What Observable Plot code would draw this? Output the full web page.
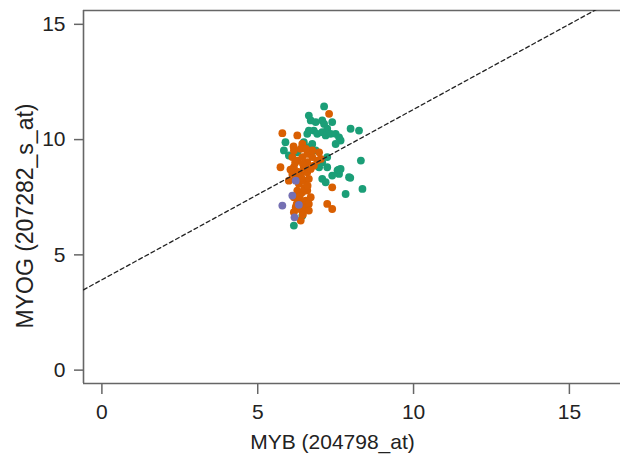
<!DOCTYPE html>
<html><head><meta charset="utf-8">
<script src="https://cdn.jsdelivr.net/npm/d3@7"></script>
<script src="https://cdn.jsdelivr.net/npm/@observablehq/plot@0.6"></script>
<style>body{margin:0;background:#fff}</style>
</head><body><div id="chart"></div>
<script>
const xTitle = "MYB (204798_at)";
const yTitle = "MYOG (207282_s_at)";
const xTicks = [0, 5, 10, 15];
const yTicks = [0, 5, 10, 15];
const xDomain = [-0.59, 16.64];
const yDomain = [-0.58, 15.6];
const regIntercept = 3.92;
const regSlope = 0.739;

const greenX = [7.13,6.64,6.70,6.86,7.07,7.13,7.39,7.23,6.80,6.64,6.59,6.91,7.07,7.18,7.34,7.50,7.61,7.66,7.50,7.98,8.25,6.48,6.75,6.86,6.64,5.89,5.84,6.00,6.27,7.23,7.07,6.97,7.23,7.56,7.66,7.61,7.39,7.07,7.18,7.93,8.31,8.36,7.82,6.43,6.16,7.60,7.97];
const greenY = [11.44,11.04,10.83,10.76,10.83,10.68,10.76,10.47,10.39,10.39,10.25,10.25,10.32,10.18,10.25,10.25,10.10,9.96,9.81,10.47,10.39,9.89,9.81,9.53,9.67,9.89,9.53,9.31,9.45,9.24,9.02,8.80,8.80,8.66,8.73,8.51,8.44,8.30,8.15,8.37,9.09,7.86,7.64,6.70,6.27,8.70,8.34];

const orangeX = [7.29,5.79,5.73,6.27,6.43,6.38,6.16,6.11,6.27,6.43,6.59,6.75,6.91,7.02,6.59,6.48,6.16,6.11,6.22,6.38,6.59,6.70,6.80,6.00,6.32,6.48,6.64,6.27,6.43,6.59,6.16,6.32,6.54,6.70,6.22,6.48,6.64,6.16,6.43,6.64,6.38,7.39,7.23,7.39,6.97,6.75,6.30,6.45,6.20,6.55,6.35,6.50,6.25,6.40,6.60,6.05,6.15,6.45,6.30];
const orangeY = [11.12,10.28,8.80,10.18,9.81,9.60,9.53,9.24,9.09,9.24,9.38,9.24,9.09,9.16,9.02,8.80,8.80,8.51,8.37,8.51,8.58,8.73,8.87,8.22,8.08,8.22,8.30,7.79,7.72,7.79,7.50,7.35,7.35,7.50,7.07,7.14,7.21,6.85,6.92,6.92,6.49,7.93,7.21,6.99,9.45,9.53,8.60,8.95,9.00,9.60,7.55,7.90,7.20,8.35,8.00,8.70,9.70,6.75,7.00];

const purpleX = [6.22,6.11,5.79,6.32,6.18];
const purpleY = [8.22,7.57,7.14,7.17,6.63];

const groupNames = ["G1","G2","G3"];
const groupColors = ["#1b9e77","#d95f02","#7570b3"];
const groupXs = [greenX, orangeX, purpleX];
const groupYs = [greenY, orangeY, purpleY];

const points = [];
groupNames.forEach((g, i) => groupXs[i].forEach((x, j) => points.push({group: g, x, y: groupYs[i][j]})));

const regLine = xDomain.map(x => ({x, y: regIntercept + regSlope * x}));

const axisColor = "#666";
const plot = Plot.plot({
  width: 620,
  height: 460,
  marginLeft: 83,
  marginRight: 0,
  marginTop: 10,
  marginBottom: 77,
  style: {fontFamily: "'Liberation Sans', Arial, sans-serif", fontSize: "20px", color: "#222", background: "#fff"},
  x: {domain: xDomain},
  y: {domain: yDomain},
  color: {domain: groupNames, range: groupColors},
  marks: [
    Plot.ruleY([yDomain[0]], {stroke: axisColor, strokeWidth: 1.6}),
    Plot.ruleY([yDomain[1]], {stroke: axisColor, strokeWidth: 1.6}),
    Plot.ruleX([xDomain[0]], {stroke: axisColor, strokeWidth: 1.6}),
    Plot.axisX({ticks: xTicks, tickSize: 11, tickPadding: 10, label: null, stroke: axisColor, strokeWidth: 1.5, fontSize: 21}),
    Plot.axisY({ticks: yTicks, tickSize: 9, tickPadding: 9, label: null, stroke: axisColor, strokeWidth: 1.5, fontSize: 21}),
    Plot.dot(points, {x: "x", y: "y", fill: "group", r: 3.9, stroke: "none"}),
    Plot.line(regLine, {x: "x", y: "y", stroke: "#222", strokeWidth: 1.3, strokeDasharray: "4,3", clip: true}),
    Plot.text([xTitle], {text: d => d, frameAnchor: "bottom", dy: 65, dx: -19.5, fontSize: 21, fill: "#222"}),
    Plot.text([yTitle], {text: d => d, frameAnchor: "left", textAnchor: "middle", rotate: -90, dx: -58, dy: 19, fontSize: 23, fill: "#222"})
  ]
});
document.getElementById("chart").appendChild(plot);
</script>
</body></html>
